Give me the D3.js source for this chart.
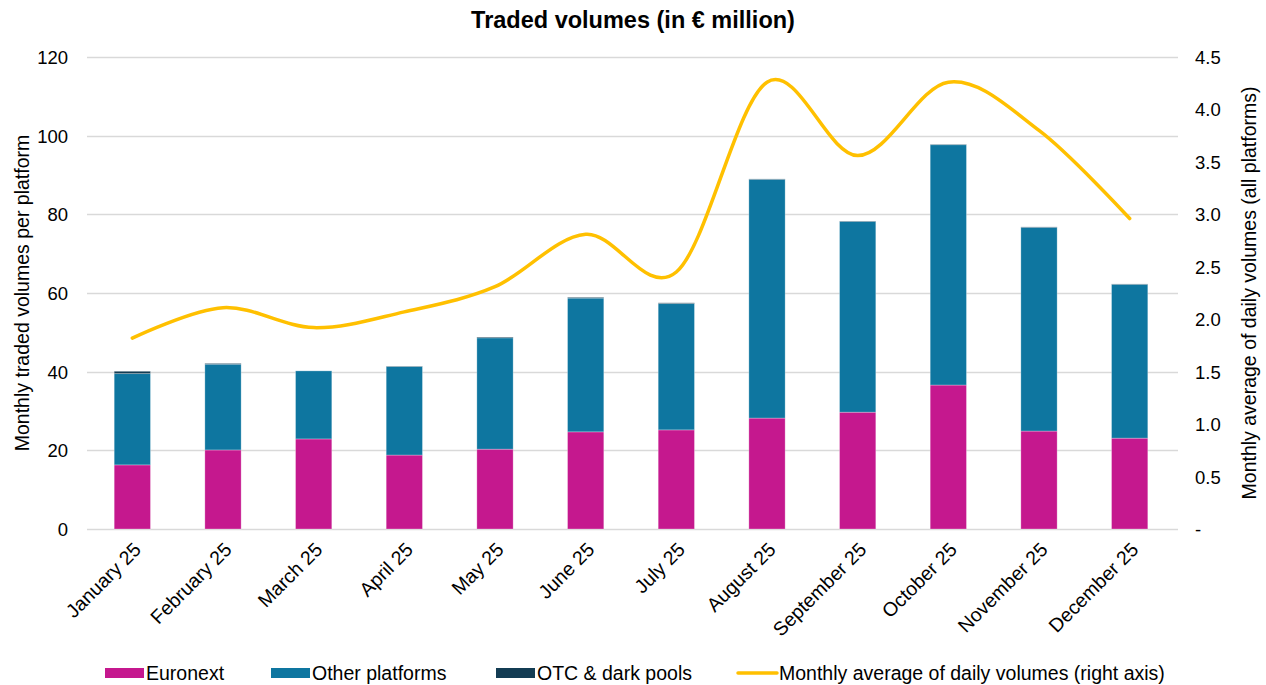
<!DOCTYPE html>
<html>
<head>
<meta charset="utf-8">
<script src="https://cdn.jsdelivr.net/npm/d3@7"></script>
<style>
  body { margin: 0; background: #fff; }
  text { font-family: "Liberation Sans", Arial, sans-serif; fill: #000; }
</style>
</head>
<body>
<svg id="chart"></svg>
<script>
const months = ["January 25", "February 25", "March 25", "April 25", "May 25", "June 25",
  "July 25", "August 25", "September 25", "October 25", "November 25", "December 25"];
const euronext = [16.3, 20.1, 22.9, 18.8, 20.3, 24.7, 25.2, 28.2, 29.7, 36.6, 24.9, 23.1];
const otherPlatforms = [23.2, 21.8, 17.3, 22.5, 28.3, 34.0, 32.1, 60.7, 48.5, 61.1, 51.8, 39.1];
const otcDarkPools = [0.6, 0.2, 0.0, 0.1, 0.2, 0.2, 0.2, 0.1, 0.1, 0.1, 0.1, 0.1];
const dailyAverage = [1.82, 2.11, 1.92, 2.07, 2.31, 2.81, 2.45, 4.26, 3.56, 4.26, 3.80, 2.96];
const leftTicks = [0, 20, 40, 60, 80, 100, 120];
const rightTicks = [0, 0.5, 1, 1.5, 2, 2.5, 3, 3.5, 4, 4.5];

const width = 1266;
const height = 685;
const margin = {top: 57, right: 91, bottom: 156, left: 87};

const keys = ["euronext", "other", "otc"];
const colors = {euronext: "#c5188e", other: "#0e76a0", otc: "#133c53"};
const table = months.map((m, i) => ({
  month: m, euronext: euronext[i], other: otherPlatforms[i], otc: otcDarkPools[i]
}));

const x = d3.scaleBand()
    .domain(months)
    .range([margin.left, width - margin.right])
    .paddingInner(0.6)
    .paddingOuter(0.3);

const y = d3.scaleLinear()
    .domain([0, 120])
    .range([height - margin.bottom, margin.top]);

const y2 = d3.scaleLinear()
    .domain([0, 4.5])
    .range([height - margin.bottom, margin.top]);

const svg = d3.select("#chart")
    .attr("width", width)
    .attr("height", height)
    .attr("viewBox", [0, 0, width, height]);

// gridlines
svg.append("g")
    .selectAll("line")
    .data(leftTicks)
    .join("line")
    .attr("x1", margin.left)
    .attr("x2", width - margin.right + 3)
    .attr("y1", d => Math.round(y(d)) + 0.5)
    .attr("y2", d => Math.round(y(d)) + 0.5)
    .attr("stroke", "#d9d9d9")
    .attr("stroke-width", 1.3);

// stacked bars
const series = d3.stack().keys(keys)(table);
svg.append("g")
    .selectAll("g")
    .data(series)
    .join("g")
    .attr("fill", d => colors[d.key])
    .selectAll("rect")
    .data(d => d)
    .join("rect")
    .attr("x", d => x(d.data.month))
    .attr("width", x.bandwidth())
    .attr("y", d => y(d[1]))
    .attr("height", d => Math.max(0, y(d[0]) - y(d[1])))
    .attr("stroke", "#ffffff")
    .attr("stroke-opacity", 0.35)
    .attr("stroke-width", 0.8);

// line on right axis
const line = d3.line()
    .x((d, i) => x(months[i]) + x.bandwidth() / 2)
    .y(d => y2(d))
    .curve(d3.curveCatmullRom.alpha(0));

svg.append("path")
    .datum(dailyAverage)
    .attr("fill", "none")
    .attr("stroke", "#ffc000")
    .attr("stroke-width", 3.5)
    .attr("stroke-linejoin", "round")
    .attr("stroke-linecap", "round")
    .attr("d", line);

// left axis
svg.append("g")
    .attr("transform", `translate(${margin.left},0)`)
    .call(d3.axisLeft(y).tickValues(leftTicks).tickSize(0).tickPadding(19))
    .call(g => g.select(".domain").remove())
    .call(g => g.selectAll("text").attr("font-size", 18.5).attr("dy", "0.35em"));

// right axis
svg.append("g")
    .attr("transform", `translate(${width - margin.right},0)`)
    .call(d3.axisRight(y2).tickValues(rightTicks).tickSize(0).tickPadding(20)
      .tickFormat(d => d === 0 ? "-" : d3.format(".1f")(d)))
    .call(g => g.select(".domain").remove())
    .call(g => g.selectAll("text").attr("font-size", 18.5).attr("dy", "0.35em"));

// bottom axis
svg.append("g")
    .attr("transform", `translate(0,${height - margin.bottom})`)
    .call(d3.axisBottom(x).tickSize(0).tickPadding(10))
    .call(g => g.select(".domain").remove())
    .call(g => g.selectAll("text")
        .attr("font-size", 19.5)
        .attr("text-anchor", "end")
        .attr("dy", "0.35em")
        .attr("transform", "translate(-2,10) rotate(-45)"));

// title
svg.append("text")
    .attr("x", width / 2)
    .attr("y", 28)
    .attr("text-anchor", "middle")
    .attr("font-size", 23.5)
    .attr("font-weight", "bold")
    .text("Traded volumes (in € million)");

// axis titles
svg.append("text")
    .attr("transform", `translate(29,${(margin.top + height - margin.bottom) / 2}) rotate(-90)`)
    .attr("text-anchor", "middle")
    .attr("font-size", 19.5)
    .text("Monthly traded volumes per platform");

svg.append("text")
    .attr("transform", `translate(1256,${(margin.top + height - margin.bottom) / 2}) rotate(-90)`)
    .attr("text-anchor", "middle")
    .attr("font-size", 19.5)
    .text("Monthly average of daily volumes (all platforms)");

// legend
const legendItems = [
  {label: "Euronext", color: colors.euronext, type: "rect", x: 105},
  {label: "Other platforms", color: colors.other, type: "rect", x: 271},
  {label: "OTC & dark pools", color: colors.otc, type: "rect", x: 496},
  {label: "Monthly average of daily volumes (right axis)", color: "#ffc000", type: "line", x: 738}
];
const legend = svg.append("g").attr("transform", "translate(0,673)");
const item = legend.selectAll("g")
    .data(legendItems)
    .join("g")
    .attr("transform", d => `translate(${d.x},0)`);
item.filter(d => d.type === "rect")
    .append("rect")
    .attr("y", -5)
    .attr("width", 39)
    .attr("height", 10)
    .attr("fill", d => d.color);
item.filter(d => d.type === "line")
    .append("line")
    .attr("x1", 0).attr("x2", 39)
    .attr("stroke", d => d.color)
    .attr("stroke-width", 3.5)
    .attr("stroke-linecap", "round");
item.append("text")
    .attr("x", 41)
    .attr("dy", "0.35em")
    .attr("font-size", 19.5)
    .text(d => d.label);
</script>
</body>
</html>
